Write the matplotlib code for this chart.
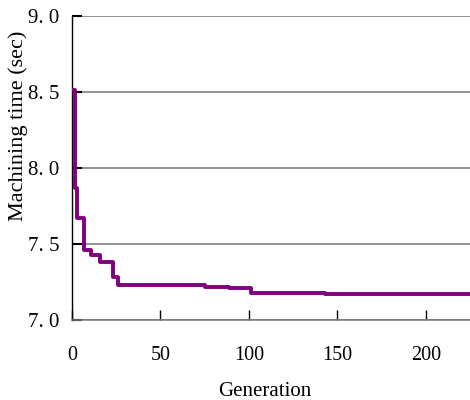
import matplotlib.pyplot as plt
from matplotlib.ticker import FuncFormatter

# step curve of best machining time per generation
generation = [0, 1.5, 3, 7, 11, 16, 23, 26, 75, 89, 101.5, 143, 225]
machining_time = [8.51, 7.87, 7.67, 7.46, 7.43, 7.38, 7.28, 7.23, 7.22, 7.21, 7.18, 7.17, 7.17]

x_ticks = [0, 50, 100, 150, 200]
y_ticks = [7.0, 7.5, 8.0, 8.5, 9.0]

plt.rcParams['font.family'] = ['Liberation Serif', 'DejaVu Serif']

fig = plt.figure(figsize=(4.7, 4.0), dpi=100)
ax = fig.add_axes([0.153, 0.2, 0.847, 0.76])

ax.step(generation, machining_time, where='post', color='#800080', lw=2.8, zorder=3)

ax.set_xlim(0, 225)
ax.set_ylim(7.0, 9.0)
ax.set_xticks(x_ticks)
ax.set_yticks(y_ticks)
ax.yaxis.set_major_formatter(FuncFormatter(lambda v, p: f"{v:.1f}".replace('.', '. ')))

ax.grid(axis='y', color='#767676', lw=1.1)
ax.set_axisbelow(True)
for s in ('top', 'right'):
    ax.spines[s].set_visible(False)
ax.spines['left'].set_color('black')
ax.spines['left'].set_linewidth(1.0)
ax.spines['bottom'].set_color('#767676')
ax.spines['bottom'].set_linewidth(1.1)

ax.tick_params(axis='x', direction='in', length=7, width=1, color='black', pad=19, labelsize=14.5)
ax.tick_params(axis='y', direction='in', length=7, width=1.5, color='black', pad=9, labelsize=15)

ax.set_xlabel('Generation', fontsize=15)
ax.set_ylabel('Machining time (sec)', fontsize=16)
ax.xaxis.set_label_coords(0.485, -0.203)
ax.yaxis.set_label_coords(-0.11, 0.64)

fig.savefig('out.png', dpi=100)
